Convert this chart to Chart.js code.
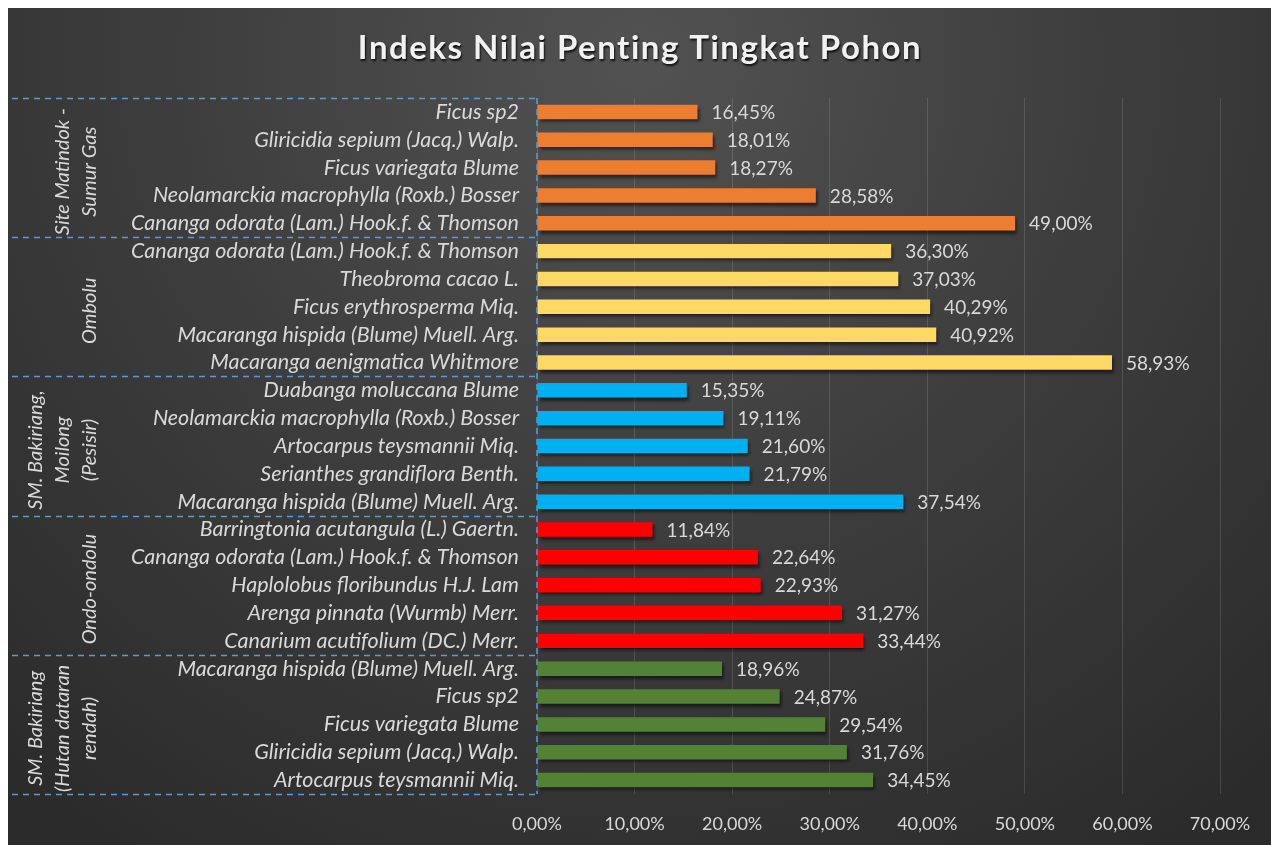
<!DOCTYPE html>
<html>
<head>
<meta charset="utf-8">
<script src="https://cdn.jsdelivr.net/npm/chart.js@4/dist/chart.umd.min.js"></script>
<style>
  html, body { margin: 0; padding: 0; background: #ffffff; }
  #wrap { position: absolute; left: 0; top: 0; width: 1271px; height: 845px; }
</style>
</head>
<body>
<div id="wrap"><canvas id="inp"></canvas></div>
<script>
const chartTitle = 'Indeks Nilai Penting Tingkat Pohon'

// sites, top to bottom, each with 5 species
const sites = [
  ['Site Matindok -', 'Sumur Gas'],
  ['Ombolu'],
  ['SM. Bakiriang,', 'Moilong', '(Pesisir)'],
  ['Ondo-ondolu'],
  ['SM. Bakiriang', '(Hutan dataran', 'rendah)']
]
const siteColors = ['#ED7D31', '#FFD966', '#00B0F0', '#FF0000', '#548235']
const perSite = 5

const species = [
  'Ficus sp2',
  'Gliricidia sepium (Jacq.) Walp.',
  'Ficus variegata Blume',
  'Neolamarckia macrophylla (Roxb.) Bosser',
  'Cananga odorata (Lam.) Hook.f. & Thomson',
  'Cananga odorata (Lam.) Hook.f. & Thomson',
  'Theobroma cacao L.',
  'Ficus erythrosperma Miq.',
  'Macaranga hispida (Blume) Muell. Arg.',
  'Macaranga aenigmatica Whitmore',
  'Duabanga moluccana Blume',
  'Neolamarckia macrophylla (Roxb.) Bosser',
  'Artocarpus teysmannii Miq.',
  'Serianthes grandiflora Benth.',
  'Macaranga hispida (Blume) Muell. Arg.',
  'Barringtonia acutangula (L.) Gaertn.',
  'Cananga odorata (Lam.) Hook.f. & Thomson',
  'Haplolobus floribundus H.J. Lam',
  'Arenga pinnata (Wurmb) Merr.',
  'Canarium acutifolium (DC.) Merr.',
  'Macaranga hispida (Blume) Muell. Arg.',
  'Ficus sp2',
  'Ficus variegata Blume',
  'Gliricidia sepium (Jacq.) Walp.',
  'Artocarpus teysmannii Miq.'
]

const inpValues = [
  16.45, 18.01, 18.27, 28.58, 49.00,
  36.30, 37.03, 40.29, 40.92, 58.93,
  15.35, 19.11, 21.60, 21.79, 37.54,
  11.84, 22.64, 22.93, 31.27, 33.44,
  18.96, 24.87, 29.54, 31.76, 34.45
]

const xTicks = [0, 10, 20, 30, 40, 50, 60, 70]

const FONT = 'Lato, "Open Sans", sans-serif'
const TEXT = '#d9d9d9'

function pct(v) {
  return v.toFixed(2).replace('.', ',') + '%'
}

// background + title
const backdrop = {
  id: 'backdrop',
  beforeDraw(chart) {
    const ctx = chart.ctx
    const w = chart.width, h = chart.height
    ctx.save()
    ctx.fillStyle = '#ffffff'
    ctx.fillRect(0, 0, w, h)
    const g = ctx.createRadialGradient(640, 60, 20, 640, 60, 980)
    g.addColorStop(0, '#515151')
    g.addColorStop(0.45, '#3e3e3e')
    g.addColorStop(1, '#2a2a2a')
    ctx.fillStyle = g
    ctx.fillRect(8, 8, w - 8, h - 8)

    ctx.font = 'bold 33px ' + FONT
    ctx.textAlign = 'center'
    ctx.textBaseline = 'middle'
    ctx.letterSpacing = '1.5px'
    ctx.shadowColor = 'rgba(0,0,0,0.8)'
    ctx.shadowOffsetX = 1
    ctx.shadowOffsetY = 2
    ctx.shadowBlur = 2
    ctx.fillStyle = '#f2f2f2'
    ctx.fillText(chartTitle, 640, 48)
    ctx.restore()
  }
}

// soft shadow under the bars
const barShadow = {
  id: 'barShadow',
  beforeDatasetsDraw(chart) {
    const ctx = chart.ctx
    ctx.save()
    ctx.shadowColor = 'rgba(0,0,0,0.55)'
    ctx.shadowOffsetX = 2
    ctx.shadowOffsetY = 3
    ctx.shadowBlur = 3
  },
  afterDatasetsDraw(chart) {
    chart.ctx.restore()
  }
}

// value labels, site boxes and site names
const annotate = {
  id: 'annotate',
  afterDraw(chart) {
    const ctx = chart.ctx
    const area = chart.chartArea
    const meta = chart.getDatasetMeta(0)
    ctx.save()
    ctx.font = '19px ' + FONT
    ctx.fillStyle = TEXT
    ctx.textAlign = 'left'
    ctx.textBaseline = 'middle'
    meta.data.forEach((bar, i) => {
      ctx.fillText(pct(inpValues[i]), bar.x + 14, bar.y + 1)
    })

    const step = (area.bottom - area.top) / species.length
    ctx.strokeStyle = '#5B9BD5'
    ctx.lineWidth = 1.5
    ctx.setLineDash([6, 5])
    for (let s = 0; s <= sites.length; s++) {
      const y = Math.round(area.top + s * perSite * step) + 0.5
      ctx.beginPath()
      ctx.moveTo(12, y)
      ctx.lineTo(area.left, y)
      ctx.stroke()
    }
    ctx.beginPath()
    ctx.moveTo(area.left, area.top)
    ctx.lineTo(area.left, area.bottom)
    ctx.stroke()
    ctx.setLineDash([])

    ctx.font = 'italic 20px ' + FONT
    ctx.textAlign = 'center'
    sites.forEach((lines, s) => {
      const cy = area.top + (s * perSite + perSite / 2) * step + 4
      lines.forEach((line, k) => {
        const x = 90 - (lines.length - 1 - k) * 27
        ctx.save()
        ctx.translate(x, cy)
        ctx.rotate(-Math.PI / 2)
        ctx.fillText(line, 0, 0)
        ctx.restore()
      })
    })
    ctx.restore()
  }
}

new Chart(document.getElementById('inp'), {
  type: 'bar',
  data: {
    labels: species,
    datasets: [{
      label: chartTitle,
      data: inpValues,
      backgroundColor: inpValues.map((v, i) => siteColors[Math.floor(i / perSite)]),
      borderWidth: 0,
      barPercentage: 0.52,
      categoryPercentage: 1
    }]
  },
  options: {
    indexAxis: 'y',
    responsive: true,
    maintainAspectRatio: false,
    animation: false,
    layout: { padding: { left: 8, right: 51, top: 98, bottom: 0 } },
    plugins: {
      legend: { display: false },
      tooltip: { enabled: false },
      title: { display: false }
    },
    scales: {
      x: {
        min: 0,
        max: 70,
        afterBuildTicks(scale) {
          scale.ticks = xTicks.map(v => ({ value: v }))
        },
        afterFit(scale) { scale.height = 51 },
        ticks: {
          color: TEXT,
          padding: 19,
          font: { family: FONT, size: 18 },
          callback: v => pct(v)
        },
        grid: { color: 'rgba(255,255,255,0.13)', drawTicks: false },
        border: { display: false }
      },
      y: {
        afterFit(scale) { scale.width = 529 },
        ticks: {
          color: TEXT,
          padding: 18,
          autoSkip: false,
          font: { family: FONT, size: 21.5, style: 'italic' }
        },
        grid: { display: false, drawTicks: false },
        border: { display: false }
      }
    }
  },
  plugins: [backdrop, barShadow, annotate]
})
</script>
</body>
</html>
